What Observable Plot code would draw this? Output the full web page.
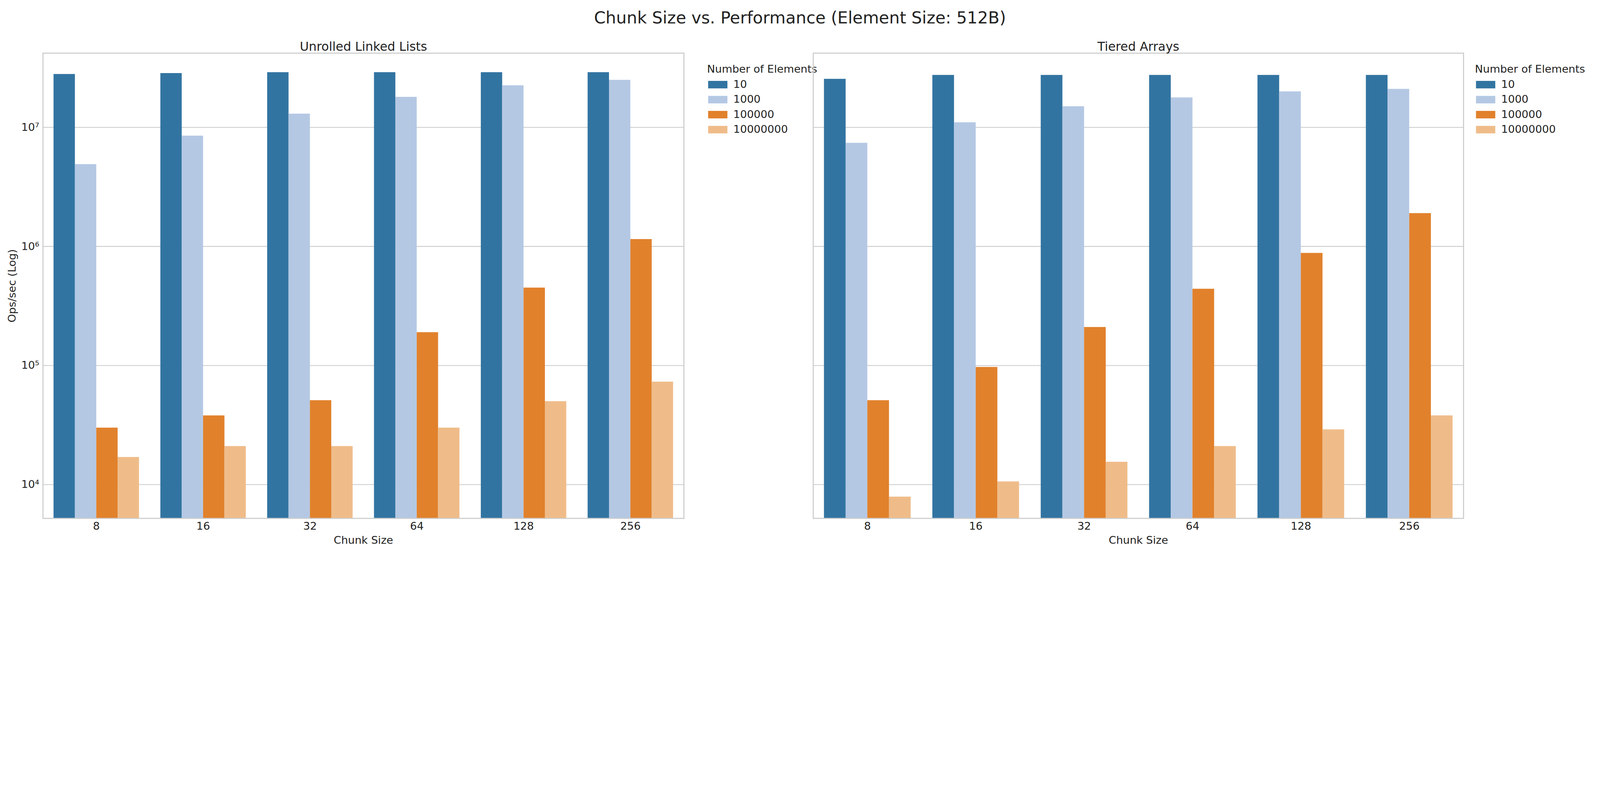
<!DOCTYPE html>
<html>
<head>
<meta charset="utf-8">
<script src="https://cdn.jsdelivr.net/npm/d3@7"></script>
<script src="https://cdn.jsdelivr.net/npm/@observablehq/plot@0.6"></script>
<style>
  html, body { margin: 0; background: #fff; font-family: "DejaVu Sans", sans-serif; overflow: hidden; }
  #wrap { position: relative; width: 5974px; height: 2071px; transform-origin: 0 0; }
  #title { position: absolute; top: 30px; width: 5974px; text-align: center; font-size: 62px; color: #222; }
  .panel { position: absolute; top: 130px; width: 2987px; height: 1941px; }
  .legend { position: absolute; font-size: 40px; color: #222; line-height: 56px; white-space: nowrap; }
  .sw { display: inline-block; width: 72px; height: 28px; margin-right: 22px; vertical-align: -2px; }
</style>
</head>
<body>
<div id="wrap">
  <div id="title">Chunk Size vs. Performance (Element Size: 512B)</div>
  <div class="panel" id="p1" style="left:0px"></div>
  <div class="panel" id="p2" style="left:2987px"></div>
</div>
<script>
const chunks = ['8', '16', '32', '64', '128', '256']
const elements = ['10', '1000', '100000', '10000000']
const colors = ['#3274a1', '#b4c8e4', '#e1812c', '#efbc89']

// Unrolled Linked Lists, one array per element count
const ull10 = [2.8e7, 2.85e7, 2.9e7, 2.9e7, 2.9e7, 2.9e7]
const ull1000 = [4.9e6, 8.5e6, 1.3e7, 1.8e7, 2.25e7, 2.5e7]
const ull100000 = [3.0e4, 3.8e4, 5.1e4, 1.9e5, 4.5e5, 1.15e6]
const ull10000000 = [1.7e4, 2.1e4, 2.1e4, 3.0e4, 5.0e4, 7.3e4]

// Tiered Arrays
const ta10 = [2.55e7, 2.75e7, 2.75e7, 2.75e7, 2.75e7, 2.75e7]
const ta1000 = [7.4e6, 1.1e7, 1.5e7, 1.78e7, 2.0e7, 2.1e7]
const ta100000 = [5.1e4, 9.7e4, 2.1e5, 4.4e5, 8.8e5, 1.9e6]
const ta10000000 = [7.9e3, 1.06e4, 1.55e4, 2.1e4, 2.9e4, 3.8e4]

const yTicks = [1e4, 1e5, 1e6, 1e7]
const sup = {'4': '⁴', '5': '⁵', '6': '⁶', '7': '⁷'}

// fit the fixed 5974x2071 layout into whatever viewport we get
const k = Math.min(window.innerWidth / 5974, window.innerHeight / 2071)
if (k < 1) document.getElementById('wrap').style.transform = `scale(${k})`

function rows(series) {
  const out = []
  series.forEach((vals, j) => vals.forEach((v, i) => out.push({i, j, el: elements[j], v})))
  return out
}

function chart(title, series, opts) {
  const data = rows(series)
  return Plot.plot({
    width: 2987,
    height: 1941,
    marginTop: 68,
    marginBottom: 136,
    marginLeft: opts.ml,
    marginRight: opts.mr,
    style: {fontSize: '40px', fontFamily: 'DejaVu Sans, sans-serif', color: '#222'},
    x: {domain: [-0.5, 5.5], ticks: d3.range(6), tickFormat: i => chunks[i], tickSize: 0, tickPadding: 14,
        label: 'Chunk Size', labelAnchor: 'center', labelArrow: 'none', labelOffset: 95},
    y: {type: 'log', domain: [5200, 4.2e7], ticks: yTicks, tickSize: 0, tickPadding: 14,
        tickFormat: opts.showY ? (d => '10' + sup[String(Math.round(Math.log10(d)))]) : () => '',
        label: opts.showY ? 'Ops/sec (Log)' : null, labelAnchor: 'center', labelArrow: 'none', labelOffset: 130},
    color: {domain: elements, range: colors},
    marks: [
      Plot.gridY(yTicks, {stroke: '#ccc', strokeOpacity: 1, strokeWidth: 3}),
      Plot.rectY(data, {
        x1: d => d.i - 0.4 + d.j * 0.2,
        x2: d => d.i - 0.4 + (d.j + 1) * 0.2,
        y1: 5200, y2: 'v', fill: 'el'
      }),
      Plot.frame({stroke: '#ccc', strokeWidth: 4}),
      Plot.text([title], {frameAnchor: 'top', dy: -42, fontSize: 46, fill: '#222'})
    ]
  })
}

function legend(left) {
  const div = document.createElement('div')
  div.className = 'legend'
  div.style.left = left + 'px'
  div.style.top = '100px'
  div.innerHTML = '<div>Number of Elements</div>' + elements.map((e, i) =>
    `<div style="padding-left:4px"><span class="sw" style="background:${colors[i]}"></span>${e}</div>`).join('')
  return div
}

document.getElementById('p1').append(chart('Unrolled Linked Lists', [ull10, ull1000, ull100000, ull10000000], {ml: 160, mr: 434, showY: true}))
document.getElementById('p1').append(legend(2640))
document.getElementById('p2').append(chart('Tiered Arrays', [ta10, ta1000, ta100000, ta10000000], {ml: 49, mr: 510, showY: false}))
document.getElementById('p2').append(legend(2520))
</script>
</body>
</html>
